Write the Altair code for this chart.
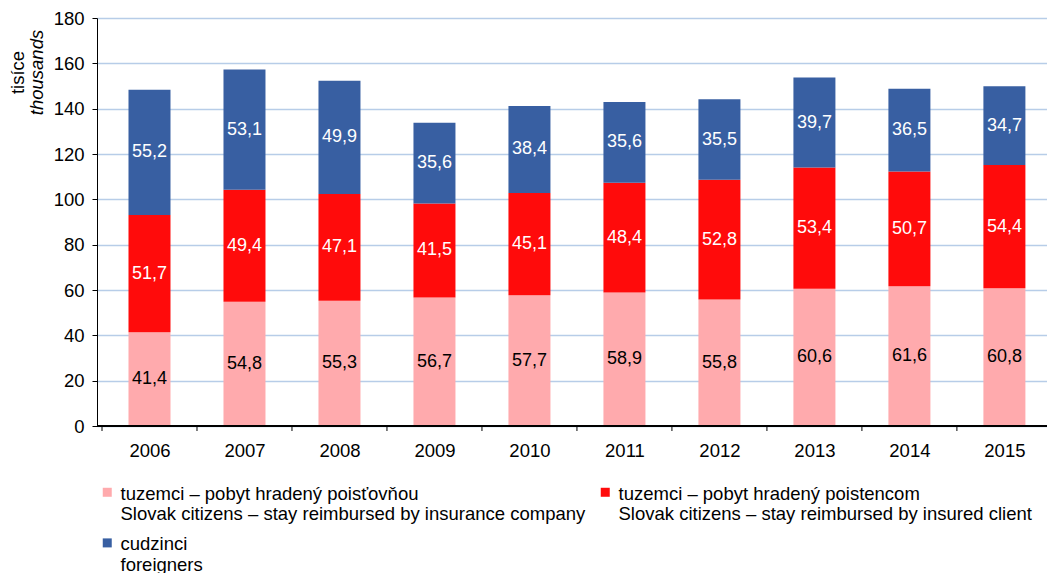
import json
import altair as alt
import pandas as pd

years = ["2006", "2007", "2008", "2009", "2010", "2011", "2012", "2013", "2014", "2015"]
insurer_paid = [41.4, 54.8, 55.3, 56.7, 57.7, 58.9, 55.8, 60.6, 61.6, 60.8]
client_paid = [51.7, 49.4, 47.1, 41.5, 45.1, 48.4, 52.8, 53.4, 50.7, 54.4]
foreigners = [55.2, 53.1, 49.9, 35.6, 38.4, 35.6, 35.5, 39.7, 36.5, 34.7]

series_names = [
    "tuzemci – pobyt hradený poisťovňou|Slovak citizens – stay reimbursed by insurance company",
    "tuzemci – pobyt hradený poistencom|Slovak citizens – stay reimbursed by insured client",
    "cudzinci|foreigners",
]
series_colors = ["#FFAAAD", "#FF0B0B", "#385FA2"]
label_colors = ["black", "white", "white"]
y_ticks = [0, 20, 40, 60, 80, 100, 120, 140, 160, 180]

rows = []
for i, (name, vals) in enumerate(zip(series_names, [insurer_paid, client_paid, foreigners])):
    for k, (yr, v) in enumerate(zip(years, vals)):
        rows.append({
            "year": yr, "xc": k + 0.5, "series": name, "order": i, "value": v,
            "label": f"{v:.1f}".replace(".", ","), "tcolor": label_colors[i],
        })
df = pd.DataFrame(rows)
bounds_df = pd.DataFrame({"xb": list(range(len(years)))})

FONT = "Liberation Sans"
FS = 18.5
W, H = 950, 408          # visible plot area
BAND = 96                # pixels per year; the last category is cut at the right edge, as in the reference
x_max = W / BAND

xscale = alt.Scale(domain=[0, x_max], nice=False, zero=False)
label_expr = json.dumps(years) + "[floor(datum.value)]"

base = alt.Chart(df).transform_stack(
    stack="value", groupby=["year"], as_=["v0", "v1"],
    sort=[alt.SortField("order", order="ascending")],
).transform_calculate(mid="(datum.v0 + datum.v1) / 2")

bars = base.mark_bar(size=42).encode(
    x=alt.X(
        "xc:Q", scale=xscale,
        axis=alt.Axis(
            values=[k + 0.5 for k in range(len(years))], labelExpr=label_expr,
            title=None, labelAngle=0, labelFontSize=FS, labelFont=FONT,
            labelColor="black", labelPadding=15, ticks=False, tickSize=0,
            domain=False, grid=False, labelFlush=False, labelOverlap=False,
        ),
    ),
    y=alt.Y(
        "v0:Q", scale=alt.Scale(domain=[0, 180], nice=False),
        axis=alt.Axis(
            values=y_ticks, title="thousands", titleFontStyle="italic", titleFont=FONT,
            titleFontSize=FS, titleFontWeight="normal", titleColor="black",
            titleX=-55, titleY=54, titleAngle=270, titleBaseline="alphabetic",
            titleAlign="center", labelFontSize=FS, labelFont=FONT, labelColor="black",
            labelPadding=8, tickSize=5, tickColor="black", domainColor="black",
            grid=True, gridColor="#B7CDE8", gridWidth=1.5, orient="left",
        ),
    ),
    y2="v1:Q",
    color=alt.Color(
        "series:N",
        scale=alt.Scale(domain=series_names, range=series_colors),
        legend=alt.Legend(
            title=None, orient="none", legendX=1, legendY=457, columns=2,
            direction="horizontal",
            labelExpr="split(datum.label, '|')", labelFontSize=FS, labelFont=FONT,
            labelColor="black", labelLimit=1000, labelBaseline="top",
            symbolType="M-1,0.7H1V2.7H-1Z", symbolSize=81, symbolStrokeWidth=0,
            symbolOpacity=1, rowPadding=2, columnPadding=10, labelOffset=4, padding=0,
        ),
    ),
    order=alt.Order("order:Q"),
)

texts = base.mark_text(fontSize=18, font=FONT, baseline="middle").encode(
    x=alt.X("xc:Q", scale=xscale),
    y=alt.Y(
        "mid:Q",
        axis=alt.Axis(
            title="tisíce", titleFont=FONT, titleFontSize=FS, titleFontWeight="normal",
            titleColor="black", titleX=-74, titleY=54, titleAngle=270,
            titleBaseline="alphabetic", titleAlign="center", labels=False, ticks=False,
            domain=False, grid=False, orient="left",
        ),
    ),
    text="label:N",
    color=alt.Color("tcolor:N", scale=None),
)

# x axis baseline and the tick marks at the category boundaries
baseline = alt.Chart(bounds_df).mark_rule(color="black", strokeWidth=1).encode(
    y=alt.Y(datum=0, axis=None),
)
xticks = alt.Chart(bounds_df).mark_rule(color="black", strokeWidth=1).encode(
    x=alt.X("xb:Q", scale=xscale),
    y=alt.value(H),
    y2=alt.value(H + 5),
)

chart = alt.layer(bars, texts, baseline, xticks).resolve_axis(y="independent").properties(
    width=W, height=H,
    autosize=alt.AutoSizeParams(type="none"),
    padding={"left": 89, "top": 10, "right": 0, "bottom": 150},
).configure_view(stroke=None)

chart.save("out.html", embed_options={"renderer": "svg", "actions": False})
